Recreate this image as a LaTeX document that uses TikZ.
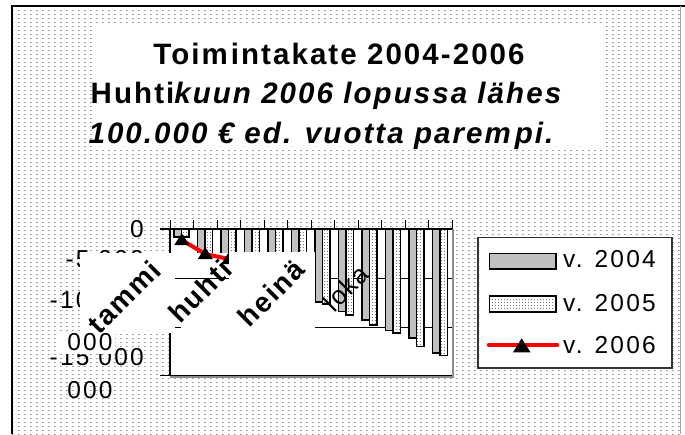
\documentclass[tikz,border=0pt]{standalone}
\usepackage{fontspec}
\setmainfont{Liberation Sans}
\newfontfamily\tfont[LetterSpace=7]{Liberation Sans}
\newfontfamily\lfont[LetterSpace=9]{Liberation Sans}
\newfontfamily\cfont[LetterSpace=6]{Liberation Sans}
\usetikzlibrary{patterns}
\pgfdeclarepatternformonly{bgdots}{\pgfpointorigin}{\pgfpoint{6pt}{4.2pt}}{\pgfpoint{6pt}{4.2pt}}{%
  \pgfpathrectangle{\pgfpoint{0pt}{0pt}}{\pgfpoint{1.8pt}{1pt}}\pgfusepath{fill}}
\pgfdeclarepatternformonly{bardots}{\pgfpointorigin}{\pgfpoint{3pt}{3pt}}{\pgfpoint{3pt}{3pt}}{%
  \pgfpathrectangle{\pgfpoint{0pt}{0pt}}{\pgfpoint{1pt}{1pt}}\pgfusepath{fill}}
\definecolor{barg}{RGB}{192,192,192}
\newcommand\axisfnt{\lfont\fontsize{24.5}{28}\selectfont}
\newcommand\catfnt{\cfont\bfseries\fontsize{28}{32}\selectfont}
\newcommand\ttlfnt{\tfont\bfseries\fontsize{29.5}{34}\selectfont}
\begin{document}
\begin{tikzpicture}[x=1pt,y=-1pt,
  lbl/.style={inner sep=0pt, font=\axisfnt},
  bar4/.style={draw=black, line width=1.5pt, fill=barg},
  bar5/.style={draw=black, line width=1.5pt, preaction={fill=white}, pattern=bardots, pattern color=black!55},
  gridl/.style={black, line width=0.8pt},
  catl/.style={font=\catfnt, rotate=45, inner sep=0pt}]
\useasboundingbox (0,0) rectangle (685,434);
\fill[white] (0,0) rectangle (685,434);
% background
\path[preaction={fill=white}, pattern=bgdots, pattern color=black!45] (12,6) rectangle (680,434);
\draw[line width=1.5pt] (685,6) -- (12,6) -- (12,434);
\draw[black!35, line width=1pt] (680,6) -- (680,434);
% title
\fill[white] (92,25) rectangle (605,150);
\node[anchor=base, inner sep=0pt, font=\ttlfnt] (t1) at (339,64) {Toim\kern3pt intakate 2004-2006};
\node[anchor=base, inner sep=0pt, font=\ttlfnt] (t2) at (327,103) {Huhti\textit{kuun 2006 lopussa lähes}};
\node[anchor=base, inner sep=0pt, font=\ttlfnt] (t3) at (321,143) {\itshape 100.000 € ed. vuotta parem\kern4pt pi.};
% plot area
\fill[white] (170,229) rectangle (452,375);
\draw[gridl] (170,278) -- (452,278);
\draw[gridl] (170,327) -- (452,327);
\foreach \k/\ya/\yb in {1/237/237,2/270/270,3/270/270,4/270/270,5/270/270,6/270/270,
  7/302/304,8/311.7/315,9/320/325,10/330.7/333,11/338/346.7,12/353/355.7}{
  \pgfmathsetmacro\L{170+(\k-1)*23.5}
  \draw[bar4] ({\L+3.75},229) rectangle ({\L+11.25},\ya);
  \draw[bar5] ({\L+11.25},229) rectangle ({\L+18.75},\yb);
}
\draw[black!45, line width=2pt] (170,376.5) -- (453,376.5) -- (453,229);
\draw[line width=0.8pt] (160,375) -- (452,375);
\draw[line width=1.2pt] (160,229) -- (452,229);
\foreach \k in {0,...,12} \draw[line width=1pt] ({170+23.5*\k},220) -- ({170+23.5*\k},229);
\draw[line width=1.2pt] (170,229) -- (170,375);
\foreach \yy in {278,327} \draw[line width=1pt] (160,\yy) -- (170,\yy);
% y labels
\node[lbl, anchor=east] (y0) at (144,229) {0};
\node[lbl, anchor=east] (y5) at (144,259) {-5 000};
\node[lbl, anchor=east] (y10) at (144,300) {-10 000};
\node[lbl, anchor=east] (y15) at (144,357) {-15 000};
% white label box A
\fill[white] (80,253) rectangle (228.75,333);
\draw[gridl] (175,278) -- (228.75,278);
\draw[gridl] (175,327) -- (181,327);
% 2006 series
\coordinate (m1) at (181.75,240);
\coordinate (m2) at (205.25,254);
\coordinate (m3) at (228.75,259);
\draw[red, line width=4pt] (m1) -- (m2) -- (m3);
\foreach \m in {m1,m2,m3} \fill (\m) ++(0,-6.8) -- ++(7.5,11.8) -- ++(-15,0) -- cycle;
% white label box B
\fill[white] (228.75,252) rectangle (315,340);
% wrapped labels
\fill[white] (60,331) rectangle (115,354);
\node[lbl] (y10b) at (90,342) {000};
\node[lbl] (y15b) at (90,390) {000};
% category labels
\node[catl] (c1) at (124,297) {tammi};
\node[catl] (c4) at (200,291) {huhti};
\node[catl] (c7) at (271,293) {heinä};
\node[font=\cfont\fontsize{26}{30}\selectfont, rotate=45, inner sep=0pt] (c10) at (346,288) {loka};
% legend
\draw[black!80, line width=1.2pt, fill=white] (478,237.5) rectangle (672,368);
\draw[bar4, line width=1.8pt] (489.5,253.5) rectangle (556,269.3);
\draw[bar5, line width=1.8pt] (489.5,296) rectangle (556,312.3);
\coordinate (l1) at (489,345);
\coordinate (l2) at (557,345);
\draw[red, line width=4.5pt, line cap=round] (l1) -- (l2);
\fill (521.7,338.3) -- (530.5,352.3) -- (513,352.3) -- cycle;
\node[lbl, anchor=base west] (v4) at (563,267.7) {v. 2004};
\node[lbl, anchor=base west] (v5) at (563,311) {v. 2005};
\node[lbl, anchor=base west] (v6) at (563,353) {v. 2006};
\end{tikzpicture}
\end{document}
